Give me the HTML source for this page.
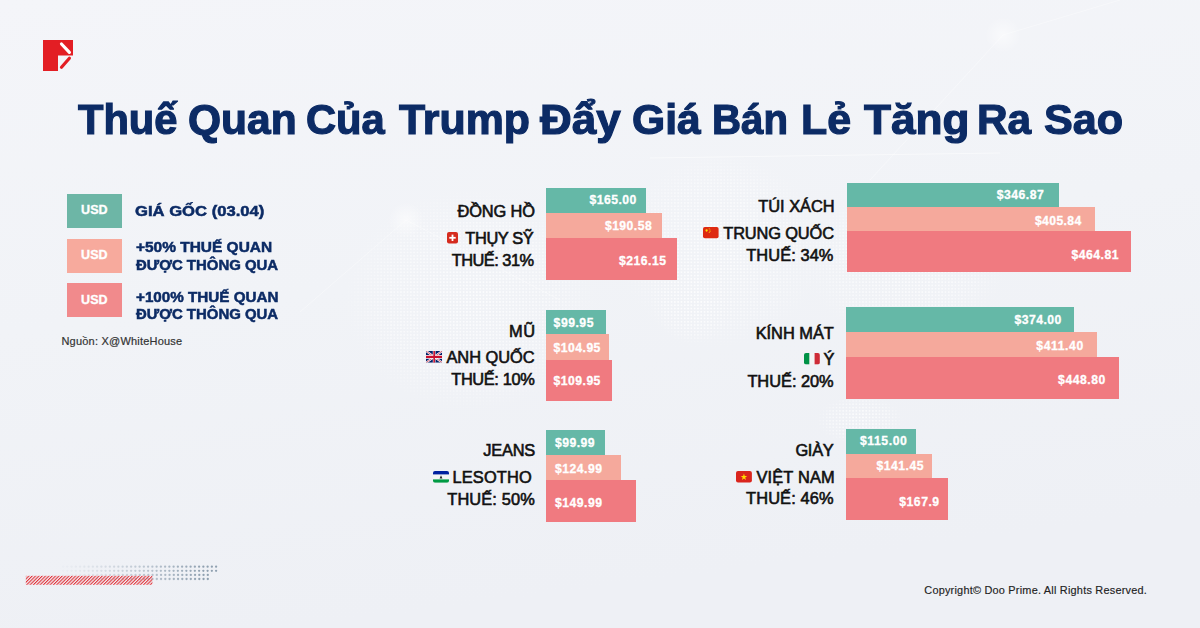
<!DOCTYPE html>
<html><head><meta charset="utf-8"><style>
html,body{margin:0;padding:0;}
body{width:1200px;height:628px;overflow:hidden;position:relative;background:#f1f3f8;font-family:"Liberation Sans",sans-serif;}
.t{position:absolute;white-space:nowrap;line-height:normal;}
.r{position:absolute;}
</style></head><body>
<svg class="r" style="left:0;top:0" width="1200" height="628" viewBox="0 0 1200 628">
<defs>
 <linearGradient id="bgg" x1="0" y1="0" x2="0.25" y2="1">
  <stop offset="0" stop-color="#f4f5f9"/><stop offset="0.5" stop-color="#f1f3f7"/><stop offset="1" stop-color="#eef0f5"/>
 </linearGradient>
 <pattern id="dp" patternUnits="userSpaceOnUse" width="3.3" height="3.3">
  <circle cx="1.65" cy="1.65" r="0.9" fill="#ffffff"/>
 </pattern>
 <radialGradient id="fade"><stop offset="0" stop-color="#fff" stop-opacity="1"/><stop offset="0.7" stop-color="#fff" stop-opacity="0.6"/><stop offset="1" stop-color="#fff" stop-opacity="0"/></radialGradient>
 <mask id="mk">
  <ellipse cx="470" cy="300" rx="130" ry="115" fill="url(#fade)"/>
  <ellipse cx="720" cy="250" rx="105" ry="100" fill="url(#fade)"/>
  <ellipse cx="905" cy="262" rx="105" ry="80" fill="url(#fade)"/>
  <ellipse cx="860" cy="420" rx="45" ry="25" fill="url(#fade)"/>
  <ellipse cx="693" cy="300" rx="42" ry="45" fill="url(#fade)"/>
 </mask>
 <radialGradient id="glow"><stop offset="0" stop-color="#fff" stop-opacity="0.9"/><stop offset="1" stop-color="#fff" stop-opacity="0"/></radialGradient>
</defs>
<rect width="1200" height="628" fill="url(#bgg)"/>
<rect width="1200" height="628" fill="url(#dp)" mask="url(#mk)" opacity="1"/>
<circle cx="406" cy="220" r="18" fill="url(#glow)" opacity="0.6"/>
<circle cx="1003" cy="35" r="18" fill="url(#glow)" opacity="0.6"/>
<path d="M300 312 L406 220 L560 300" stroke="#fff" stroke-opacity="0.45" stroke-width="0.8" fill="none"/>
<path d="M870 180 L1003 35 L1120 0" stroke="#fff" stroke-opacity="0.45" stroke-width="0.8" fill="none"/>
<path d="M650 158 L1000 153" stroke="#fff" stroke-opacity="0.5" stroke-width="1" fill="none"/>
</svg>
<svg class="r" style="left:43px;top:40px" width="31" height="31" viewBox="0 0 31 31">
<path d="M0 0H30V15.5H15V31H0Z" fill="#e31e24"/>
<path d="M18.5 4L26.4 12.3" stroke="#fff" stroke-width="3.2" stroke-linecap="round"/>
<path d="M26.4 18.3L18.5 27.3" stroke="#e31e24" stroke-width="3.2" stroke-linecap="round"/>
</svg>
<div class="r" style="left:67.00px;top:194.00px;width:55.00px;height:34.00px;background:#6db6a6;"></div>
<div class="r" style="left:67.00px;top:239.00px;width:55.00px;height:34.00px;background:#f7aa9d;"></div>
<div class="r" style="left:67.00px;top:283.00px;width:55.00px;height:34.00px;background:#f18a8c;"></div>
<div class="r" style="left:546.00px;top:188.00px;width:100.00px;height:25.00px;background:#65b8a7;"></div>
<div class="r" style="left:546.00px;top:213.00px;width:116.00px;height:25.00px;background:#f5a99c;"></div>
<div class="r" style="left:546.00px;top:238.00px;width:131.00px;height:42.00px;background:#f07a80;"></div>
<div class="r" style="left:546.00px;top:310.00px;width:60.00px;height:24.00px;background:#65b8a7;"></div>
<div class="r" style="left:546.00px;top:334.00px;width:63.00px;height:26.00px;background:#f5a99c;"></div>
<div class="r" style="left:546.00px;top:360.00px;width:66.00px;height:41.00px;background:#f07a80;"></div>
<div class="r" style="left:546.00px;top:430.00px;width:59.00px;height:25.00px;background:#65b8a7;"></div>
<div class="r" style="left:546.00px;top:455.00px;width:75.00px;height:25.00px;background:#f5a99c;"></div>
<div class="r" style="left:546.00px;top:480.00px;width:90.00px;height:42.00px;background:#f07a80;"></div>
<div class="r" style="left:847.00px;top:183.00px;width:212.00px;height:24.00px;background:#65b8a7;"></div>
<div class="r" style="left:847.00px;top:207.00px;width:248.00px;height:24.00px;background:#f5a99c;"></div>
<div class="r" style="left:847.00px;top:231.00px;width:284.00px;height:41.00px;background:#f07a80;"></div>
<div class="r" style="left:846.00px;top:307.00px;width:228.00px;height:25.00px;background:#65b8a7;"></div>
<div class="r" style="left:846.00px;top:332.00px;width:251.00px;height:25.00px;background:#f5a99c;"></div>
<div class="r" style="left:846.00px;top:357.00px;width:273.00px;height:42.00px;background:#f07a80;"></div>
<div class="r" style="left:846.00px;top:429.00px;width:70.00px;height:25.00px;background:#65b8a7;"></div>
<div class="r" style="left:846.00px;top:454.00px;width:86.00px;height:24.00px;background:#f5a99c;"></div>
<div class="r" style="left:846.00px;top:478.00px;width:102.00px;height:42.00px;background:#f07a80;"></div>
<div class="t" style="left:77.85px;top:95.16px;font-size:42.7px;font-weight:700;color:#0c2b65;-webkit-text-stroke:1.2px #0c2b65;transform:scaleX(0.9754);transform-origin:0 0">Thuế</div>
<div class="t" style="left:187.70px;top:95.16px;font-size:42.7px;font-weight:700;color:#0c2b65;-webkit-text-stroke:1.2px #0c2b65;transform:scaleX(0.9958);transform-origin:0 0">Quan</div>
<div class="t" style="left:305.50px;top:95.16px;font-size:42.7px;font-weight:700;color:#0c2b65;-webkit-text-stroke:1.2px #0c2b65;transform:scaleX(0.9763);transform-origin:0 0">Của</div>
<div class="t" style="left:398.85px;top:95.16px;font-size:42.7px;font-weight:700;color:#0c2b65;-webkit-text-stroke:1.2px #0c2b65;transform:scaleX(1.0039);transform-origin:0 0">Trump</div>
<div class="t" style="left:540.30px;top:95.16px;font-size:42.7px;font-weight:700;color:#0c2b65;-webkit-text-stroke:1.2px #0c2b65;transform:scaleX(1.0306);transform-origin:0 0">Đẩy</div>
<div class="t" style="left:631.65px;top:95.16px;font-size:42.7px;font-weight:700;color:#0c2b65;-webkit-text-stroke:1.2px #0c2b65;transform:scaleX(0.9985);transform-origin:0 0">Giá</div>
<div class="t" style="left:712.10px;top:95.16px;font-size:42.7px;font-weight:700;color:#0c2b65;-webkit-text-stroke:1.2px #0c2b65;transform:scaleX(0.9417);transform-origin:0 0">Bán</div>
<div class="t" style="left:801.35px;top:95.16px;font-size:42.7px;font-weight:700;color:#0c2b65;-webkit-text-stroke:1.2px #0c2b65;transform:scaleX(1.0053);transform-origin:0 0">Lẻ</div>
<div class="t" style="left:863.65px;top:95.16px;font-size:42.7px;font-weight:700;color:#0c2b65;-webkit-text-stroke:1.2px #0c2b65;transform:scaleX(1.035);transform-origin:0 0">Tăng</div>
<div class="t" style="left:977.05px;top:95.16px;font-size:42.7px;font-weight:700;color:#0c2b65;-webkit-text-stroke:1.2px #0c2b65;transform:scaleX(0.9934);transform-origin:0 0">Ra</div>
<div class="t" style="left:1044.00px;top:95.16px;font-size:42.7px;font-weight:700;color:#0c2b65;-webkit-text-stroke:1.2px #0c2b65;transform:scaleX(1.0104);transform-origin:0 0">Sao</div>
<div class="t" style="left:81.10px;top:203.49px;font-size:12.5px;font-weight:700;color:#ffffff;letter-spacing:0.025px;-webkit-text-stroke:0.35px #ffffff;">USD</div>
<div class="t" style="left:81.10px;top:248.49px;font-size:12.5px;font-weight:700;color:#ffffff;letter-spacing:0.025px;-webkit-text-stroke:0.35px #ffffff;">USD</div>
<div class="t" style="left:81.10px;top:292.59px;font-size:12.5px;font-weight:700;color:#ffffff;letter-spacing:0.025px;-webkit-text-stroke:0.35px #ffffff;">USD</div>
<div class="t" style="left:135.41px;top:203.48px;font-size:14.5px;font-weight:700;color:#0c2b65;letter-spacing:0px;-webkit-text-stroke:0.5px #0c2b65;transform:scaleX(1.1464);transform-origin:0 0;">GIÁ GỐC (03.04)</div>
<div class="t" style="left:136.43px;top:239.48px;font-size:14.5px;font-weight:700;color:#0c2b65;letter-spacing:0px;-webkit-text-stroke:0.5px #0c2b65;transform:scaleX(1.0659);transform-origin:0 0;">+50% THUẾ QUAN</div>
<div class="t" style="left:135.96px;top:256.58px;font-size:14.5px;font-weight:700;color:#0c2b65;letter-spacing:0px;-webkit-text-stroke:0.5px #0c2b65;transform:scaleX(1.03);transform-origin:0 0;">ĐƯỢC THÔNG QUA</div>
<div class="t" style="left:136.44px;top:289.38px;font-size:14.5px;font-weight:700;color:#0c2b65;letter-spacing:0px;-webkit-text-stroke:0.5px #0c2b65;transform:scaleX(1.0494);transform-origin:0 0;">+100% THUẾ QUAN</div>
<div class="t" style="left:135.96px;top:305.98px;font-size:14.5px;font-weight:700;color:#0c2b65;letter-spacing:0px;-webkit-text-stroke:0.5px #0c2b65;transform:scaleX(1.03);transform-origin:0 0;">ĐƯỢC THÔNG QUA</div>
<div class="t" style="left:61.45px;top:334.85px;font-size:11.0px;font-weight:400;color:#333333;letter-spacing:0.212px;-webkit-text-stroke:0.2px #333333;">Nguồn: X@WhiteHouse</div>
<div class="t" style="left:924.30px;top:583.84px;font-size:10.9px;font-weight:400;color:#222222;letter-spacing:0.226px;-webkit-text-stroke:0.15px #222222;">Copyright© Doo Prime. All Rights Reserved.</div>
<div class="t" style="left:457.55px;top:201.96px;font-size:16.4px;font-weight:400;color:#111111;letter-spacing:-0.143px;-webkit-text-stroke:0.6px #111111;">ĐỒNG HỒ</div>
<div class="t" style="left:465.30px;top:228.66px;font-size:16.4px;font-weight:400;color:#111111;letter-spacing:-0.375px;-webkit-text-stroke:0.6px #111111;">THỤY SỸ</div>
<div class="t" style="left:451.65px;top:250.96px;font-size:16.4px;font-weight:400;color:#111111;letter-spacing:-0.5px;-webkit-text-stroke:0.6px #111111;">THUẾ: 31%</div>
<div class="t" style="left:509.00px;top:321.96px;font-size:16.4px;font-weight:400;color:#111111;letter-spacing:0.5px;-webkit-text-stroke:0.6px #111111;">MŨ</div>
<div class="t" style="left:446.45px;top:347.66px;font-size:16.4px;font-weight:400;color:#111111;letter-spacing:-0.028px;-webkit-text-stroke:0.6px #111111;">ANH QUỐC</div>
<div class="t" style="left:451.25px;top:370.16px;font-size:16.4px;font-weight:400;color:#111111;letter-spacing:-0.382px;-webkit-text-stroke:0.6px #111111;">THUẾ: 10%</div>
<div class="t" style="left:483.20px;top:441.16px;font-size:16.4px;font-weight:400;color:#111111;letter-spacing:-0.187px;-webkit-text-stroke:0.6px #111111;">JEANS</div>
<div class="t" style="left:452.50px;top:467.91px;font-size:16.4px;font-weight:400;color:#111111;letter-spacing:0.143px;-webkit-text-stroke:0.6px #111111;">LESOTHO</div>
<div class="t" style="left:447.25px;top:490.16px;font-size:16.4px;font-weight:400;color:#111111;letter-spacing:0.118px;-webkit-text-stroke:0.6px #111111;">THUẾ: 50%</div>
<div class="t" style="left:758.30px;top:196.86px;font-size:16.4px;font-weight:400;color:#111111;letter-spacing:-0.015px;-webkit-text-stroke:0.6px #111111;">TÚI XÁCH</div>
<div class="t" style="left:723.30px;top:223.66px;font-size:16.4px;font-weight:400;color:#111111;letter-spacing:-0.148px;-webkit-text-stroke:0.6px #111111;">TRUNG QUỐC</div>
<div class="t" style="left:746.25px;top:246.06px;font-size:16.4px;font-weight:400;color:#111111;letter-spacing:0.08px;-webkit-text-stroke:0.6px #111111;">THUẾ: 34%</div>
<div class="t" style="left:755.70px;top:324.06px;font-size:16.4px;font-weight:400;color:#111111;letter-spacing:-0.028px;-webkit-text-stroke:0.6px #111111;">KÍNH MÁT</div>
<div class="t" style="left:823.60px;top:349.56px;font-size:16.4px;font-weight:400;color:#111111;letter-spacing:0px;-webkit-text-stroke:0.6px #111111;">Ý</div>
<div class="t" style="left:747.40px;top:372.16px;font-size:16.4px;font-weight:400;color:#111111;letter-spacing:-0.032px;-webkit-text-stroke:0.6px #111111;">THUẾ: 20%</div>
<div class="t" style="left:795.40px;top:441.06px;font-size:16.4px;font-weight:400;color:#111111;letter-spacing:-0.282px;-webkit-text-stroke:0.6px #111111;">GIÀY</div>
<div class="t" style="left:756.55px;top:467.66px;font-size:16.4px;font-weight:400;color:#111111;letter-spacing:0.136px;-webkit-text-stroke:0.6px #111111;">VIỆT NAM</div>
<div class="t" style="left:746.10px;top:489.46px;font-size:16.4px;font-weight:400;color:#111111;letter-spacing:0.107px;-webkit-text-stroke:0.6px #111111;">THUẾ: 46%</div>
<div class="t" style="left:589.50px;top:193.46px;font-size:12.2px;font-weight:700;color:#ffffff;letter-spacing:0.467px;-webkit-text-stroke:0.3px #ffffff;">$165.00</div>
<div class="t" style="left:604.90px;top:219.26px;font-size:12.2px;font-weight:700;color:#ffffff;letter-spacing:0.458px;-webkit-text-stroke:0.3px #ffffff;">$190.58</div>
<div class="t" style="left:619.00px;top:254.46px;font-size:12.2px;font-weight:700;color:#ffffff;letter-spacing:0.491px;-webkit-text-stroke:0.3px #ffffff;">$216.15</div>
<div class="t" style="left:553.60px;top:315.66px;font-size:12.2px;font-weight:700;color:#ffffff;letter-spacing:0.51px;-webkit-text-stroke:0.3px #ffffff;">$99.95</div>
<div class="t" style="left:553.60px;top:341.36px;font-size:12.2px;font-weight:700;color:#ffffff;letter-spacing:0.458px;-webkit-text-stroke:0.3px #ffffff;">$104.95</div>
<div class="t" style="left:553.60px;top:374.46px;font-size:12.2px;font-weight:700;color:#ffffff;letter-spacing:0.458px;-webkit-text-stroke:0.3px #ffffff;">$109.95</div>
<div class="t" style="left:555.10px;top:436.16px;font-size:12.2px;font-weight:700;color:#ffffff;letter-spacing:0.41px;-webkit-text-stroke:0.3px #ffffff;">$99.99</div>
<div class="t" style="left:555.10px;top:462.16px;font-size:12.2px;font-weight:700;color:#ffffff;letter-spacing:0.468px;-webkit-text-stroke:0.3px #ffffff;">$124.99</div>
<div class="t" style="left:555.10px;top:496.16px;font-size:12.2px;font-weight:700;color:#ffffff;letter-spacing:0.468px;-webkit-text-stroke:0.3px #ffffff;">$149.99</div>
<div class="t" style="left:996.80px;top:188.26px;font-size:12.2px;font-weight:700;color:#ffffff;letter-spacing:0.467px;-webkit-text-stroke:0.3px #ffffff;">$346.87</div>
<div class="t" style="left:1034.90px;top:213.56px;font-size:12.2px;font-weight:700;color:#ffffff;letter-spacing:0.384px;-webkit-text-stroke:0.3px #ffffff;">$405.84</div>
<div class="t" style="left:1071.60px;top:247.66px;font-size:12.2px;font-weight:700;color:#ffffff;letter-spacing:0.468px;-webkit-text-stroke:0.3px #ffffff;">$464.81</div>
<div class="t" style="left:1014.60px;top:312.96px;font-size:12.2px;font-weight:700;color:#ffffff;letter-spacing:0.449px;-webkit-text-stroke:0.3px #ffffff;">$374.00</div>
<div class="t" style="left:1036.30px;top:339.06px;font-size:12.2px;font-weight:700;color:#ffffff;letter-spacing:0.583px;-webkit-text-stroke:0.3px #ffffff;">$411.40</div>
<div class="t" style="left:1058.10px;top:372.96px;font-size:12.2px;font-weight:700;color:#ffffff;letter-spacing:0.542px;-webkit-text-stroke:0.3px #ffffff;">$448.80</div>
<div class="t" style="left:859.90px;top:433.96px;font-size:12.2px;font-weight:700;color:#ffffff;letter-spacing:0.593px;-webkit-text-stroke:0.3px #ffffff;">$115.00</div>
<div class="t" style="left:876.60px;top:459.46px;font-size:12.2px;font-weight:700;color:#ffffff;letter-spacing:0.468px;-webkit-text-stroke:0.3px #ffffff;">$141.45</div>
<div class="t" style="left:899.30px;top:495.26px;font-size:12.2px;font-weight:700;color:#ffffff;letter-spacing:0.5px;-webkit-text-stroke:0.3px #ffffff;">$167.9</div>

<svg class="r" style="left:447.2px;top:232.2px" width="11" height="11.6" viewBox="0 0 11 11.6">
 <rect width="11" height="11.6" rx="2" fill="#d52b1e"/>
 <rect x="4.6" y="2.6" width="1.8" height="6.4" fill="#fff"/>
 <rect x="2.3" y="4.9" width="6.4" height="1.8" fill="#fff"/>
</svg>
<svg class="r" style="left:425.5px;top:351px" width="16.3" height="11.7" viewBox="0 0 60 30" preserveAspectRatio="none">
 <clipPath id="ukc"><rect width="60" height="30" rx="4"/></clipPath>
 <g clip-path="url(#ukc)">
 <rect width="60" height="30" fill="#012169"/>
 <path d="M0,0 L60,30 M60,0 L0,30" stroke="#fff" stroke-width="6"/>
 <path d="M0,0 L60,30 M60,0 L0,30" stroke="#c8102e" stroke-width="2"/>
 <path d="M30,0 V30 M0,15 H60" stroke="#fff" stroke-width="10"/>
 <path d="M30,0 V30 M0,15 H60" stroke="#c8102e" stroke-width="6"/>
 </g>
</svg>
<svg class="r" style="left:433px;top:471px" width="16" height="11.8" viewBox="0 0 16 11.8">
 <clipPath id="lsc"><rect width="16" height="11.8" rx="2"/></clipPath>
 <g clip-path="url(#lsc)">
 <rect width="16" height="11.8" fill="#f4f4f4"/>
 <rect width="16" height="3.4" fill="#00209f"/>
 <rect y="8.4" width="16" height="3.4" fill="#009a44"/>
 <path d="M8 4.2 L6.6 7.4 H9.4Z" fill="#222"/>
 </g>
</svg>
<svg class="r" style="left:703.3px;top:227.4px" width="15.6" height="11.3" viewBox="0 0 15.6 11.3">
 <rect width="15.6" height="11.3" rx="1.8" fill="#de2910"/>
 <circle cx="3.6" cy="3.5" r="1.15" fill="#ffde00"/>
 <circle cx="6.2" cy="1.8" r="0.5" fill="#ffde00"/>
 <circle cx="7.0" cy="3.0" r="0.5" fill="#ffde00"/>
 <circle cx="7.0" cy="4.5" r="0.5" fill="#ffde00"/>
 <circle cx="6.2" cy="5.6" r="0.5" fill="#ffde00"/>
</svg>
<svg class="r" style="left:803.9px;top:353px" width="15.9" height="11.6" viewBox="0 0 15.9 11.6">
 <clipPath id="itc"><rect width="15.9" height="11.6" rx="2"/></clipPath>
 <g clip-path="url(#itc)">
 <rect width="15.9" height="11.6" fill="#f4f4f4"/>
 <rect width="5.3" height="11.6" fill="#009246"/>
 <rect x="10.6" width="5.3" height="11.6" fill="#ce2b37"/>
 </g>
</svg>
<svg class="r" style="left:736.2px;top:471.2px" width="15.9" height="11.6" viewBox="0 0 15.9 11.6">
 <rect width="15.9" height="11.6" rx="2" fill="#da251d"/>
 <path d="M7.95 2.6 L8.75 5.0 H11.2 L9.2 6.5 L10.0 8.9 L7.95 7.4 L5.9 8.9 L6.7 6.5 L4.7 5.0 H7.15Z" fill="#ffdd00"/>
</svg>
<svg class="r" style="left:0;top:0" width="260" height="628" viewBox="0 0 260 628"><defs><pattern id="hatch" patternUnits="userSpaceOnUse" width="2.36" height="10" patternTransform="rotate(45)"><rect x="0" y="0" width="1.1" height="10" fill="#e3343a"/></pattern></defs><circle cx="63.10" cy="566.70" r="1.15" fill="#8fa0b0" fill-opacity="0.03"/><circle cx="67.35" cy="566.70" r="1.15" fill="#8fa0b0" fill-opacity="0.05"/><circle cx="71.60" cy="566.70" r="1.15" fill="#8fa0b0" fill-opacity="0.07"/><circle cx="75.85" cy="566.70" r="1.15" fill="#8fa0b0" fill-opacity="0.09"/><circle cx="80.10" cy="566.70" r="1.15" fill="#8fa0b0" fill-opacity="0.11"/><circle cx="84.35" cy="566.70" r="1.15" fill="#8fa0b0" fill-opacity="0.14"/><circle cx="88.60" cy="566.70" r="1.15" fill="#8fa0b0" fill-opacity="0.16"/><circle cx="92.85" cy="566.70" r="1.15" fill="#8fa0b0" fill-opacity="0.18"/><circle cx="97.10" cy="566.70" r="1.15" fill="#8fa0b0" fill-opacity="0.21"/><circle cx="101.35" cy="566.70" r="1.15" fill="#8fa0b0" fill-opacity="0.24"/><circle cx="105.60" cy="566.70" r="1.15" fill="#8fa0b0" fill-opacity="0.26"/><circle cx="109.85" cy="566.70" r="1.15" fill="#8fa0b0" fill-opacity="0.29"/><circle cx="114.10" cy="566.70" r="1.15" fill="#8fa0b0" fill-opacity="0.32"/><circle cx="118.35" cy="566.70" r="1.15" fill="#8fa0b0" fill-opacity="0.35"/><circle cx="122.60" cy="566.70" r="1.15" fill="#8fa0b0" fill-opacity="0.38"/><circle cx="126.85" cy="566.70" r="1.15" fill="#8fa0b0" fill-opacity="0.41"/><circle cx="131.10" cy="566.70" r="1.15" fill="#8fa0b0" fill-opacity="0.44"/><circle cx="135.35" cy="566.70" r="1.15" fill="#8fa0b0" fill-opacity="0.47"/><circle cx="139.60" cy="566.70" r="1.15" fill="#8fa0b0" fill-opacity="0.50"/><circle cx="143.85" cy="566.70" r="1.15" fill="#8fa0b0" fill-opacity="0.53"/><circle cx="148.10" cy="566.70" r="1.15" fill="#8fa0b0" fill-opacity="0.56"/><circle cx="152.35" cy="566.70" r="1.15" fill="#8fa0b0" fill-opacity="0.59"/><circle cx="156.60" cy="566.70" r="1.15" fill="#8fa0b0" fill-opacity="0.63"/><circle cx="160.85" cy="566.70" r="1.15" fill="#8fa0b0" fill-opacity="0.66"/><circle cx="165.10" cy="566.70" r="1.15" fill="#8fa0b0" fill-opacity="0.69"/><circle cx="169.35" cy="566.70" r="1.15" fill="#8fa0b0" fill-opacity="0.73"/><circle cx="173.60" cy="566.70" r="1.15" fill="#8fa0b0" fill-opacity="0.76"/><circle cx="177.85" cy="566.70" r="1.15" fill="#8fa0b0" fill-opacity="0.80"/><circle cx="182.10" cy="566.70" r="1.15" fill="#8fa0b0" fill-opacity="0.83"/><circle cx="186.35" cy="566.70" r="1.15" fill="#8fa0b0" fill-opacity="0.87"/><circle cx="190.60" cy="566.70" r="1.15" fill="#8fa0b0" fill-opacity="0.90"/><circle cx="194.85" cy="566.70" r="1.15" fill="#8fa0b0" fill-opacity="0.94"/><circle cx="199.10" cy="566.70" r="1.15" fill="#8fa0b0" fill-opacity="0.97"/><circle cx="203.35" cy="566.70" r="1.15" fill="#8fa0b0" fill-opacity="1.00"/><circle cx="207.60" cy="566.70" r="1.15" fill="#8fa0b0" fill-opacity="1.00"/><circle cx="211.85" cy="566.70" r="1.15" fill="#8fa0b0" fill-opacity="1.00"/><circle cx="216.10" cy="566.70" r="1.15" fill="#8fa0b0" fill-opacity="1.00"/><circle cx="63.10" cy="570.80" r="1.15" fill="#8fa0b0" fill-opacity="0.03"/><circle cx="67.35" cy="570.80" r="1.15" fill="#8fa0b0" fill-opacity="0.05"/><circle cx="71.60" cy="570.80" r="1.15" fill="#8fa0b0" fill-opacity="0.07"/><circle cx="75.85" cy="570.80" r="1.15" fill="#8fa0b0" fill-opacity="0.09"/><circle cx="80.10" cy="570.80" r="1.15" fill="#8fa0b0" fill-opacity="0.11"/><circle cx="84.35" cy="570.80" r="1.15" fill="#8fa0b0" fill-opacity="0.14"/><circle cx="88.60" cy="570.80" r="1.15" fill="#8fa0b0" fill-opacity="0.16"/><circle cx="92.85" cy="570.80" r="1.15" fill="#8fa0b0" fill-opacity="0.18"/><circle cx="97.10" cy="570.80" r="1.15" fill="#8fa0b0" fill-opacity="0.21"/><circle cx="101.35" cy="570.80" r="1.15" fill="#8fa0b0" fill-opacity="0.24"/><circle cx="105.60" cy="570.80" r="1.15" fill="#8fa0b0" fill-opacity="0.26"/><circle cx="109.85" cy="570.80" r="1.15" fill="#8fa0b0" fill-opacity="0.29"/><circle cx="114.10" cy="570.80" r="1.15" fill="#8fa0b0" fill-opacity="0.32"/><circle cx="118.35" cy="570.80" r="1.15" fill="#8fa0b0" fill-opacity="0.35"/><circle cx="122.60" cy="570.80" r="1.15" fill="#8fa0b0" fill-opacity="0.38"/><circle cx="126.85" cy="570.80" r="1.15" fill="#8fa0b0" fill-opacity="0.41"/><circle cx="131.10" cy="570.80" r="1.15" fill="#8fa0b0" fill-opacity="0.44"/><circle cx="135.35" cy="570.80" r="1.15" fill="#8fa0b0" fill-opacity="0.47"/><circle cx="139.60" cy="570.80" r="1.15" fill="#8fa0b0" fill-opacity="0.50"/><circle cx="143.85" cy="570.80" r="1.15" fill="#8fa0b0" fill-opacity="0.53"/><circle cx="148.10" cy="570.80" r="1.15" fill="#8fa0b0" fill-opacity="0.56"/><circle cx="152.35" cy="570.80" r="1.15" fill="#8fa0b0" fill-opacity="0.59"/><circle cx="156.60" cy="570.80" r="1.15" fill="#8fa0b0" fill-opacity="0.63"/><circle cx="160.85" cy="570.80" r="1.15" fill="#8fa0b0" fill-opacity="0.66"/><circle cx="165.10" cy="570.80" r="1.15" fill="#8fa0b0" fill-opacity="0.69"/><circle cx="169.35" cy="570.80" r="1.15" fill="#8fa0b0" fill-opacity="0.73"/><circle cx="173.60" cy="570.80" r="1.15" fill="#8fa0b0" fill-opacity="0.76"/><circle cx="177.85" cy="570.80" r="1.15" fill="#8fa0b0" fill-opacity="0.80"/><circle cx="182.10" cy="570.80" r="1.15" fill="#8fa0b0" fill-opacity="0.83"/><circle cx="186.35" cy="570.80" r="1.15" fill="#8fa0b0" fill-opacity="0.87"/><circle cx="190.60" cy="570.80" r="1.15" fill="#8fa0b0" fill-opacity="0.90"/><circle cx="194.85" cy="570.80" r="1.15" fill="#8fa0b0" fill-opacity="0.94"/><circle cx="199.10" cy="570.80" r="1.15" fill="#8fa0b0" fill-opacity="0.97"/><circle cx="203.35" cy="570.80" r="1.15" fill="#8fa0b0" fill-opacity="1.00"/><circle cx="207.60" cy="570.80" r="1.15" fill="#8fa0b0" fill-opacity="1.00"/><circle cx="211.85" cy="570.80" r="1.15" fill="#8fa0b0" fill-opacity="1.00"/><circle cx="216.10" cy="570.80" r="1.15" fill="#8fa0b0" fill-opacity="1.00"/><circle cx="63.30" cy="574.90" r="1.15" fill="#8fa0b0" fill-opacity="0.03"/><circle cx="67.55" cy="574.90" r="1.15" fill="#8fa0b0" fill-opacity="0.05"/><circle cx="71.80" cy="574.90" r="1.15" fill="#8fa0b0" fill-opacity="0.07"/><circle cx="76.05" cy="574.90" r="1.15" fill="#8fa0b0" fill-opacity="0.09"/><circle cx="80.30" cy="574.90" r="1.15" fill="#8fa0b0" fill-opacity="0.11"/><circle cx="84.55" cy="574.90" r="1.15" fill="#8fa0b0" fill-opacity="0.14"/><circle cx="88.80" cy="574.90" r="1.15" fill="#8fa0b0" fill-opacity="0.16"/><circle cx="93.05" cy="574.90" r="1.15" fill="#8fa0b0" fill-opacity="0.19"/><circle cx="97.30" cy="574.90" r="1.15" fill="#8fa0b0" fill-opacity="0.21"/><circle cx="101.55" cy="574.90" r="1.15" fill="#8fa0b0" fill-opacity="0.24"/><circle cx="105.80" cy="574.90" r="1.15" fill="#8fa0b0" fill-opacity="0.26"/><circle cx="110.05" cy="574.90" r="1.15" fill="#8fa0b0" fill-opacity="0.29"/><circle cx="114.30" cy="574.90" r="1.15" fill="#8fa0b0" fill-opacity="0.32"/><circle cx="118.55" cy="574.90" r="1.15" fill="#8fa0b0" fill-opacity="0.35"/><circle cx="122.80" cy="574.90" r="1.15" fill="#8fa0b0" fill-opacity="0.38"/><circle cx="127.05" cy="574.90" r="1.15" fill="#8fa0b0" fill-opacity="0.41"/><circle cx="131.30" cy="574.90" r="1.15" fill="#8fa0b0" fill-opacity="0.44"/><circle cx="135.55" cy="574.90" r="1.15" fill="#8fa0b0" fill-opacity="0.47"/><circle cx="139.80" cy="574.90" r="1.15" fill="#8fa0b0" fill-opacity="0.50"/><circle cx="144.05" cy="574.90" r="1.15" fill="#8fa0b0" fill-opacity="0.53"/><circle cx="148.30" cy="574.90" r="1.15" fill="#8fa0b0" fill-opacity="0.56"/><circle cx="152.55" cy="574.90" r="1.15" fill="#8fa0b0" fill-opacity="0.59"/><circle cx="156.80" cy="574.90" r="1.15" fill="#8fa0b0" fill-opacity="0.63"/><circle cx="161.05" cy="574.90" r="1.15" fill="#8fa0b0" fill-opacity="0.66"/><circle cx="165.30" cy="574.90" r="1.15" fill="#8fa0b0" fill-opacity="0.69"/><circle cx="169.55" cy="574.90" r="1.15" fill="#8fa0b0" fill-opacity="0.73"/><circle cx="173.80" cy="574.90" r="1.15" fill="#8fa0b0" fill-opacity="0.76"/><circle cx="178.05" cy="574.90" r="1.15" fill="#8fa0b0" fill-opacity="0.80"/><circle cx="182.30" cy="574.90" r="1.15" fill="#8fa0b0" fill-opacity="0.83"/><circle cx="186.55" cy="574.90" r="1.15" fill="#8fa0b0" fill-opacity="0.87"/><circle cx="190.80" cy="574.90" r="1.15" fill="#8fa0b0" fill-opacity="0.90"/><circle cx="195.05" cy="574.90" r="1.15" fill="#8fa0b0" fill-opacity="0.94"/><circle cx="199.30" cy="574.90" r="1.15" fill="#8fa0b0" fill-opacity="0.98"/><circle cx="203.55" cy="574.90" r="1.15" fill="#8fa0b0" fill-opacity="1.00"/><circle cx="207.80" cy="574.90" r="1.15" fill="#8fa0b0" fill-opacity="1.00"/><circle cx="63.30" cy="579.00" r="1.15" fill="#8fa0b0" fill-opacity="0.03"/><circle cx="67.55" cy="579.00" r="1.15" fill="#8fa0b0" fill-opacity="0.05"/><circle cx="71.80" cy="579.00" r="1.15" fill="#8fa0b0" fill-opacity="0.07"/><circle cx="76.05" cy="579.00" r="1.15" fill="#8fa0b0" fill-opacity="0.09"/><circle cx="80.30" cy="579.00" r="1.15" fill="#8fa0b0" fill-opacity="0.11"/><circle cx="84.55" cy="579.00" r="1.15" fill="#8fa0b0" fill-opacity="0.14"/><circle cx="88.80" cy="579.00" r="1.15" fill="#8fa0b0" fill-opacity="0.16"/><circle cx="93.05" cy="579.00" r="1.15" fill="#8fa0b0" fill-opacity="0.19"/><circle cx="97.30" cy="579.00" r="1.15" fill="#8fa0b0" fill-opacity="0.21"/><circle cx="101.55" cy="579.00" r="1.15" fill="#8fa0b0" fill-opacity="0.24"/><circle cx="105.80" cy="579.00" r="1.15" fill="#8fa0b0" fill-opacity="0.26"/><circle cx="110.05" cy="579.00" r="1.15" fill="#8fa0b0" fill-opacity="0.29"/><circle cx="114.30" cy="579.00" r="1.15" fill="#8fa0b0" fill-opacity="0.32"/><circle cx="118.55" cy="579.00" r="1.15" fill="#8fa0b0" fill-opacity="0.35"/><circle cx="122.80" cy="579.00" r="1.15" fill="#8fa0b0" fill-opacity="0.38"/><circle cx="127.05" cy="579.00" r="1.15" fill="#8fa0b0" fill-opacity="0.41"/><circle cx="131.30" cy="579.00" r="1.15" fill="#8fa0b0" fill-opacity="0.44"/><circle cx="135.55" cy="579.00" r="1.15" fill="#8fa0b0" fill-opacity="0.47"/><circle cx="139.80" cy="579.00" r="1.15" fill="#8fa0b0" fill-opacity="0.50"/><circle cx="144.05" cy="579.00" r="1.15" fill="#8fa0b0" fill-opacity="0.53"/><circle cx="148.30" cy="579.00" r="1.15" fill="#8fa0b0" fill-opacity="0.56"/><circle cx="152.55" cy="579.00" r="1.15" fill="#8fa0b0" fill-opacity="0.59"/><circle cx="156.80" cy="579.00" r="1.15" fill="#8fa0b0" fill-opacity="0.63"/><circle cx="161.05" cy="579.00" r="1.15" fill="#8fa0b0" fill-opacity="0.66"/><circle cx="165.30" cy="579.00" r="1.15" fill="#8fa0b0" fill-opacity="0.69"/><circle cx="169.55" cy="579.00" r="1.15" fill="#8fa0b0" fill-opacity="0.73"/><circle cx="173.80" cy="579.00" r="1.15" fill="#8fa0b0" fill-opacity="0.76"/><circle cx="178.05" cy="579.00" r="1.15" fill="#8fa0b0" fill-opacity="0.80"/><circle cx="182.30" cy="579.00" r="1.15" fill="#8fa0b0" fill-opacity="0.83"/><circle cx="186.55" cy="579.00" r="1.15" fill="#8fa0b0" fill-opacity="0.87"/><circle cx="190.80" cy="579.00" r="1.15" fill="#8fa0b0" fill-opacity="0.90"/><circle cx="195.05" cy="579.00" r="1.15" fill="#8fa0b0" fill-opacity="0.94"/><circle cx="199.30" cy="579.00" r="1.15" fill="#8fa0b0" fill-opacity="0.98"/><circle cx="203.55" cy="579.00" r="1.15" fill="#8fa0b0" fill-opacity="1.00"/><circle cx="207.80" cy="579.00" r="1.15" fill="#8fa0b0" fill-opacity="1.00"/><rect x="25.8" y="575.8" width="126.6" height="9" fill="url(#hatch)"/></svg>

</body></html>
